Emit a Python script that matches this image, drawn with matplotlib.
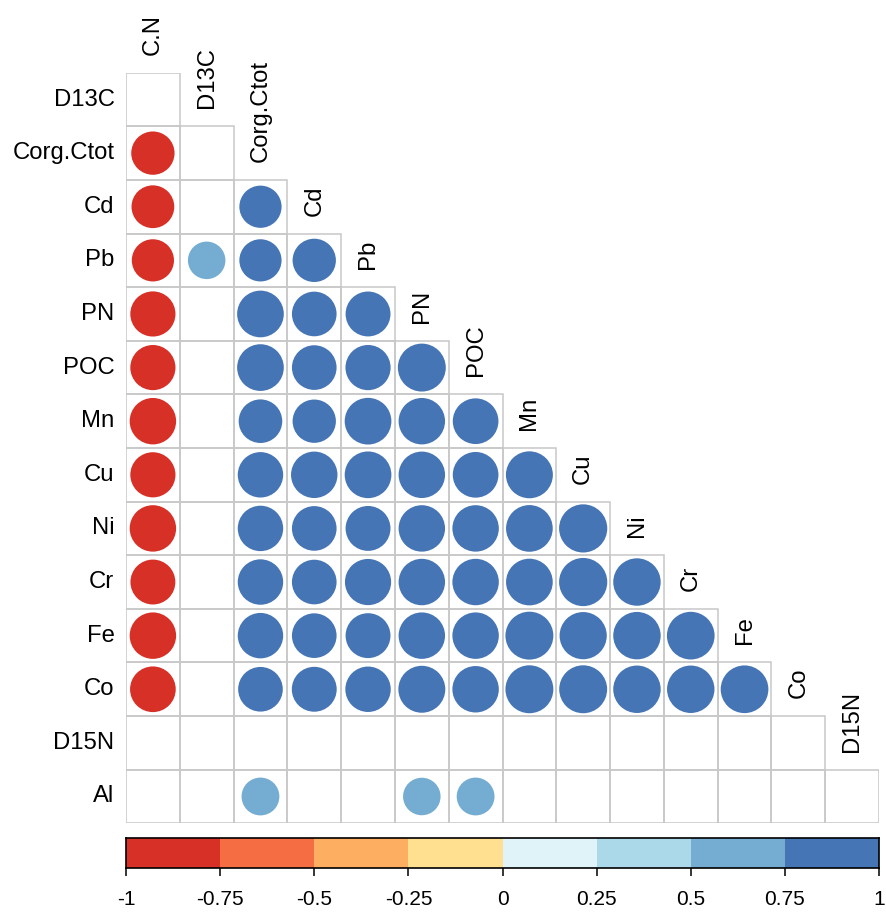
import numpy as np
import matplotlib
matplotlib.use("Agg")
import matplotlib.pyplot as plt
from matplotlib.patches import Ellipse, Rectangle
from matplotlib.colors import ListedColormap, BoundaryNorm

plt.rcParams['font.family'] = ['Liberation Sans', 'DejaVu Sans']

nan = np.nan
variables = ["C.N", "D13C", "Corg.Ctot", "Cd", "Pb", "PN", "POC", "Mn", "Cu",
             "Ni", "Cr", "Fe", "Co", "D15N", "Al"]

# lower triangle: correlation of each row variable with the preceding variables
# NaN = blank cell (not significant)
r_D13C = [nan]
r_Corg = [-0.80, nan]
r_Cd = [-0.78, nan, 0.76]
r_Pb = [-0.76, 0.60, 0.76, 0.80]
r_PN = [-0.87, nan, 0.93, 0.85, 0.86]
r_POC = [-0.87, nan, 0.93, 0.85, 0.87, 0.98]
r_Mn = [-0.92, nan, 0.81, 0.80, 0.93, 0.92, 0.89]
r_Cu = [-0.87, nan, 0.88, 0.92, 0.93, 0.92, 0.89, 0.94]
r_Ni = [-0.92, nan, 0.88, 0.85, 0.86, 0.92, 0.92, 0.93, 0.99]
r_Cr = [-0.86, nan, 0.88, 0.85, 0.91, 0.92, 0.92, 0.93, 0.99, 0.96]
r_Fe = [-0.92, nan, 0.88, 0.85, 0.86, 0.92, 0.92, 0.98, 0.95, 0.96, 0.97]
r_Co = [-0.89, nan, 0.85, 0.86, 0.88, 0.94, 0.92, 0.98, 0.98, 0.96, 0.96, 0.97]
r_D15N = [nan] * 13
r_Al = [nan, nan, 0.61, nan, nan, 0.60, 0.61, nan, nan, nan, nan, nan, nan, nan]

lower_rows = [r_D13C, r_Corg, r_Cd, r_Pb, r_PN, r_POC, r_Mn, r_Cu, r_Ni,
              r_Cr, r_Fe, r_Co, r_D15N, r_Al]

cbar_bounds = [-1, -0.75, -0.5, -0.25, 0, 0.25, 0.5, 0.75, 1]
cbar_labels = ["-1", "-0.75", "-0.5", "-0.25", "0", "0.25", "0.5", "0.75", "1"]
cbar_colors = ["#D73027", "#F46D43", "#FDAE61", "#FEE090",
               "#E0F3F8", "#ABD9E9", "#74ADD1", "#4575B4"]

cmap = ListedColormap(cbar_colors)
norm = BoundaryNorm(cbar_bounds, cmap.N)

W, H = 886, 914
fig = plt.figure(figsize=(W / 100, H / 100), dpi=100)
gx0, gx1, gy0, gy1 = 126, 879, 72.7, 823.3
ax = fig.add_axes([gx0 / W, 1 - gy1 / H, (gx1 - gx0) / W, (gy1 - gy0) / H])
n = len(lower_rows)
ax.set_xlim(0, n)
ax.set_ylim(n, 0)
ax.axis('off')
cw = (gx1 - gx0) / n
ch = (gy1 - gy0) / n

fs = 17.2
for i, row in enumerate(lower_rows):
    for j in range(i + 1):
        ax.add_patch(Rectangle((j, i), 1, 1, fill=False, edgecolor='#C8C8C8',
                               lw=1.1, zorder=1))
        v = row[j]
        if not np.isnan(v):
            d = 0.9 * np.sqrt(abs(v))
            ax.add_patch(Ellipse((j + 0.5, i + 0.5), d, d * cw / ch,
                                 facecolor=cmap(norm(v)), edgecolor='none',
                                 zorder=2))
    ax.text(-11.5 / cw, i + 0.5, variables[i + 1], ha='right', va='center',
            fontsize=fs, color='black', clip_on=False)

for j in range(n):
    ax.text(j + 0.5, j - 18 / ch, variables[j], rotation=90, ha='center',
            va='bottom', fontsize=fs, color='black', clip_on=False)

# colorbar
cy0, cy1 = 838, 868
cax = fig.add_axes([gx0 / W, 1 - cy1 / H, (gx1 - gx0) / W, (cy1 - cy0) / H])
cax.set_xlim(cbar_bounds[0], cbar_bounds[-1])
cax.set_ylim(0, 1)
for k, c in enumerate(cbar_colors):
    cax.add_patch(Rectangle((cbar_bounds[k], 0), cbar_bounds[k + 1] - cbar_bounds[k], 1,
                            facecolor=c, edgecolor='none'))
for s in cax.spines.values():
    s.set_color('black')
    s.set_linewidth(1.2)
cax.set_yticks([])
cax.set_xticks(cbar_bounds)
cax.set_xticklabels(cbar_labels, family=['Liberation Sans Narrow', 'Liberation Sans'],
                    fontsize=15)
cax.tick_params(axis='x', length=6, width=1.1, pad=10, color='black')

fig.savefig('out.png', dpi=100, facecolor='white')
